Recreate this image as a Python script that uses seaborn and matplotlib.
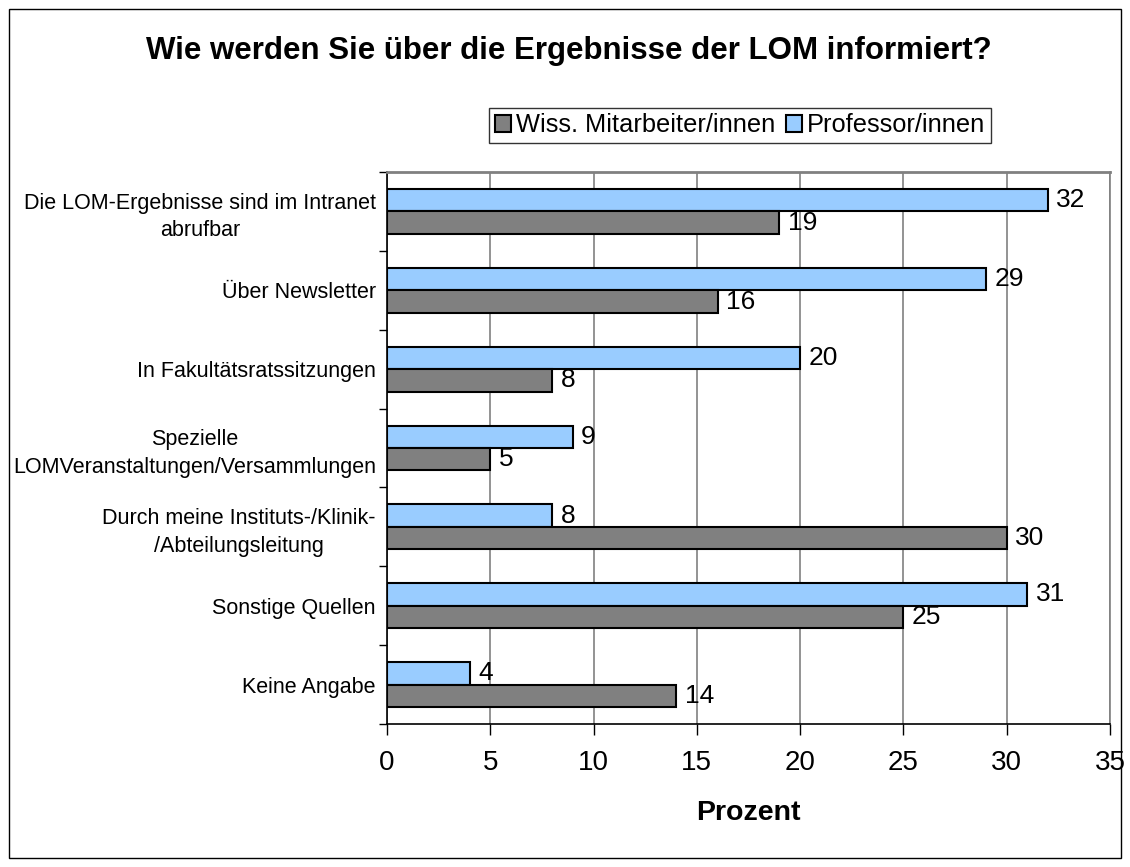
import numpy as np
import pandas as pd
import seaborn as sns
import matplotlib.pyplot as plt
from matplotlib.patches import Rectangle, Patch

# Data
CATEGORIES = [
    "Die LOM-Ergebnisse sind im Intranet\nabrufbar",
    "Über Newsletter",
    "In Fakultätsratssitzungen",
    "Spezielle\nLOMVeranstaltungen/Versammlungen",
    "Durch meine Instituts-/Klinik-\n/Abteilungsleitung",
    "Sonstige Quellen",
    "Keine Angabe",
]
WISS = [19, 16, 8, 5, 30, 25, 14]
PROF = [32, 29, 20, 9, 8, 31, 4]
GROUPS = ["Wiss. Mitarbeiter/innen", "Professor/innen"]
COLORS = {"Wiss. Mitarbeiter/innen": "#808080", "Professor/innen": "#99CCFF"}
X_TICKS = [0, 5, 10, 15, 20, 25, 30, 35]

sns.set_style("white")
plt.rcParams["font.family"] = ["Liberation Sans", "DejaVu Sans"]
plt.rcParams["text.color"] = "black"
plt.rcParams["axes.labelcolor"] = "black"
plt.rcParams["xtick.color"] = "black"
plt.rcParams["ytick.color"] = "black"

df = pd.DataFrame({
    "Frage": CATEGORIES * 2,
    "Prozent": WISS + PROF,
    "Gruppe": [GROUPS[0]] * len(WISS) + [GROUPS[1]] * len(PROF),
})

fig = plt.figure(figsize=(11.3, 8.67), dpi=100)
ax = fig.add_axes([387 / 1130, 1 - 724 / 867, (1110 - 387) / 1130, (724 - 172) / 867])

sns.barplot(
    data=df, y="Frage", x="Prozent", hue="Gruppe",
    hue_order=["Professor/innen", "Wiss. Mitarbeiter/innen"],
    palette=COLORS, saturation=1, orient="h", width=0.57,
    edgecolor="black", linewidth=1.5, legend=False, ax=ax,
)

for cont in ax.containers:
    ax.bar_label(cont, fmt="%d", padding=6, fontsize=19, color="black")

# axes styling
ax.set_xlim(0, 35)
ax.set_ylim(6.5, -0.5)
ax.set_xticks(X_TICKS)
ax.xaxis.grid(True, color="#808080", linewidth=1.2)
ax.set_axisbelow(True)
ax.set_yticks(np.arange(-0.5, 7, 1), minor=True)
ax.tick_params(axis="y", which="major", length=0, pad=8, labelsize=15.5)
ax.tick_params(axis="y", which="minor", left=True, length=6, width=1, color="black")
ax.tick_params(axis="x", bottom=True, length=8, width=1, color="black", pad=11, labelsize=20)
for lbl in ax.get_yticklabels():
    lbl.set_multialignment("center")
    lbl.set_linespacing(1.4)

for side in ["left", "bottom"]:
    ax.spines[side].set_color("black")
    ax.spines[side].set_linewidth(1.2)
ax.spines["top"].set_color("#808080")
ax.spines["top"].set_linewidth(2)
ax.spines["right"].set_color("#808080")
ax.spines["right"].set_linewidth(1.2)

ax.set_ylabel("")
ax.set_xlabel("Prozent", fontsize=20.5, fontweight="bold", labelpad=17)

fig.suptitle("Wie werden Sie über die Ergebnisse der LOM informiert?",
             x=569 / 1130, y=1 - 51 / 867, va="center", fontsize=22.5, fontweight="bold")

handles = [Patch(facecolor=COLORS[g], edgecolor="black", linewidth=1.5) for g in GROUPS]
leg = fig.legend(
    handles, GROUPS, loc="center", bbox_to_anchor=(740 / 1130, 1 - 125.5 / 867),
    ncol=2, fontsize=18.3, frameon=True, fancybox=False, edgecolor="black",
    handlelength=0.65, handleheight=0.65, handletextpad=0.2, columnspacing=0.4,
    borderpad=0.22,
)
leg.get_frame().set_linewidth(1)

fig.patches.append(Rectangle((9 / 1130, 9 / 867), 1112 / 1130, 849 / 867,
                             transform=fig.transFigure, fill=False,
                             edgecolor="black", linewidth=1))

fig.savefig("out.png", dpi=100)
